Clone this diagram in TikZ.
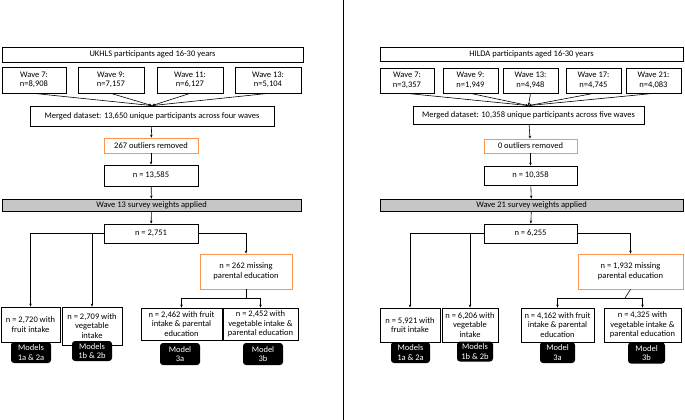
\documentclass[tikz,border=0pt]{standalone}
\usepackage{fontspec}
\setmainfont{Carlito}
\usetikzlibrary{arrows.meta}
\tikzset{
  box/.style={draw, thick, fill=white, align=center, inner sep=1pt, font=\fontsize{8.5}{9.5}\selectfont},
  outl/.style={box, draw=orange!80!red!70},
  bar/.style={box, fill=gray!45},
  model/.style={fill=black, text=white, rounded corners=3pt, align=center, inner sep=1pt, font=\fontsize{8.5}{9.5}\selectfont},
  arr/.style={-{Stealth[length=3pt,width=2.5pt]}, semithick},
}
\begin{document}
\begin{tikzpicture}[x=1pt, y=-1pt]
    \useasboundingbox (0,0) rectangle (685,420);

    % Divider between the two cohorts
    \draw[semithick] (343,0) -- (343,420);

    % UKHLS cohort
    \node[box, minimum width=301pt, minimum height=15pt] (uTitle) at (152.5,54.5) {UKHLS participants aged 16-30 years};
    \node[box, minimum width=64pt, minimum height=26pt] (uW1) at (34,80) {Wave 7:\\n=8,908};
    \node[box, minimum width=66pt, minimum height=26pt] (uW2) at (111,80) {Wave 9:\\n=7,157};
    \node[box, minimum width=66pt, minimum height=26pt] (uW3) at (190,80) {Wave 11:\\n=6,127};
    \node[box, minimum width=66pt, minimum height=26pt] (uW4) at (268,80) {Wave 13:\\n=5,104};
    \node[box, minimum width=244pt, minimum height=20pt] (uMerge) at (152,116) {Merged dataset: 13,650 unique participants across four waves};
    \node[outl, minimum width=94pt, minimum height=15pt] (uOut) at (151,145.5) {267 outliers removed};
    \node[box, minimum width=94pt, minimum height=21pt] (uN) at (151,175.5) {n = 13,585};
    \node[bar, minimum width=299pt, minimum height=12pt] (uWeight) at (151.5,205) {Wave 13 survey weights applied};
    \node[box, minimum width=94pt, minimum height=19pt] (uAll) at (151,233.5) {n = 2,751};
    \node[outl, minimum width=92pt, minimum height=35pt] (uMiss) at (246,271.5) {n = 262 missing\\parental education};
    \node[box, minimum width=59pt, minimum height=35pt] (uFruit) at (30.5,324.5) {n = 2,720 with\\fruit intake};
    \node[box, minimum width=60pt, minimum height=38pt] (uVeg) at (92,326) {n = 2,709 with\\vegetable\\intake};
    \node[box, minimum width=81pt, minimum height=32pt] (uFruitPE) at (181.5,324) {n = 2,462 with fruit\\intake \& parental\\education};
    \node[box, minimum width=75pt, minimum height=32pt] (uVegPE) at (260.5,324) {n = 2,452 with\\vegetable intake \&\\parental education};
    \node[model, minimum width=40pt, minimum height=21pt] (uM1) at (31,352.5) {Models\\1a \& 2a};
    \node[model, minimum width=40pt, minimum height=20pt] (uM2) at (92,351) {Models\\1b \& 2b};
    \node[model, minimum width=40pt, minimum height=22pt] (uM3) at (180,354) {Model\\3a};
    \node[model, minimum width=40pt, minimum height=22pt] (uM4) at (263,354) {Model\\3b};
    \coordinate (uJoin) at (246,298);

    \draw[arr] (uW1.south) -- (uMerge.north);
    \draw[arr] (uW2.south) -- (uMerge.north);
    \draw[arr] (uW3.south) -- (uMerge.north);
    \draw[arr] (uW4.south) -- (uMerge.north);
    \draw[arr] (uMerge) -- (uOut);
    \draw[arr] (uOut) -- (uN);
    \draw[arr] (uN) -- (uWeight);
    \draw[arr] (uWeight) -- (uAll);
    \draw[arr] (uAll.west) -| (uFruit.north);
    \draw[arr] (uAll.west) -| (uVeg.north);
    \draw[arr] (uAll.east) -| (uMiss.north);
    \draw[semithick] (uMiss.south) -- (uJoin);
    \draw[arr] (uJoin) -| (uFruitPE.north);
    \draw[arr] (uJoin) -| (uVegPE.north);

    % HILDA cohort
    \node[box, minimum width=303pt, minimum height=14pt] (hTitle) at (531.5,54) {HILDA participants aged 16-30 years};
    \node[box, minimum width=54pt, minimum height=25pt] (hW1) at (407,80.5) {Wave 7:\\n=3,357};
    \node[box, minimum width=55pt, minimum height=25pt] (hW2) at (470.5,80.5) {Wave 9:\\n=1,949};
    \node[box, minimum width=55pt, minimum height=25pt] (hW3) at (530.5,80.5) {Wave 13:\\n=4,948};
    \node[box, minimum width=55pt, minimum height=25pt] (hW4) at (593.5,80.5) {Wave 17:\\n=4,745};
    \node[box, minimum width=55pt, minimum height=25pt] (hW5) at (653.5,80.5) {Wave 21:\\n=4,083};
    \node[box, minimum width=231pt, minimum height=18pt] (hMerge) at (528.5,115) {Merged dataset: 10,358 unique participants across five waves};
    \node[outl, minimum width=93pt, minimum height=14pt] (hOut) at (530.5,146) {0 outliers removed};
    \node[box, minimum width=93pt, minimum height=19pt] (hN) at (530.5,175.5) {n = 10,358};
    \node[bar, minimum width=303pt, minimum height=12pt] (hWeight) at (531.5,205) {Wave 21 survey weights applied};
    \node[box, minimum width=93pt, minimum height=19pt] (hAll) at (530.5,233.5) {n = 6,255};
    \node[outl, minimum width=105pt, minimum height=35pt] (hMiss) at (630.5,271.5) {n = 1,932 missing\\parental education};
    \node[box, minimum width=60pt, minimum height=34pt] (hFruit) at (410,325) {n = 5,921 with\\fruit intake};
    \node[box, minimum width=56pt, minimum height=34pt] (hVeg) at (470,325) {n = 6,206 with\\vegetable\\intake};
    \node[box, minimum width=73pt, minimum height=34pt] (hFruitPE) at (557.5,325) {n = 4,162 with fruit\\intake \& parental\\education};
    \node[box, minimum width=77pt, minimum height=34pt] (hVegPE) at (642.5,325) {n = 4,325 with\\vegetable intake \&\\parental education};
    \node[model, minimum width=39pt, minimum height=21pt] (hM1) at (410.5,352.5) {Models\\1a \& 2a};
    \node[model, minimum width=36pt, minimum height=20pt] (hM2) at (475,351.5) {Models\\1b \& 2b};
    \node[model, minimum width=35pt, minimum height=21pt] (hM3) at (557.5,352.5) {Model\\3a};
    \node[model, minimum width=37pt, minimum height=21pt] (hM4) at (646.5,353) {Model\\3b};
    \coordinate (hJoin) at (625,298);

    \draw[arr] (hW1.south) -- (hMerge.north);
    \draw[arr] (hW2.south) -- (hMerge.north);
    \draw[arr] (hW3.south) -- (hMerge.north);
    \draw[arr] (hW4.south) -- (hMerge.north);
    \draw[arr] (hW5.south) -- (hMerge.north);
    \draw[arr] (hMerge) -- (hOut);
    \draw[arr] (hOut) -- (hN);
    \draw[arr] (hN) -- (hWeight);
    \draw[arr] (hWeight) -- (hAll);
    \draw[arr] (hAll.west) -| (hFruit.north);
    \draw[arr] (hAll.west) -| (hVeg.north);
    \draw[arr] (hAll.east) -| (hMiss.north);
    \draw[semithick] (hMiss.south) -- (hJoin);
    \draw[arr] (hJoin) -| (hFruitPE.north);
    \draw[arr] (hJoin) -| (hVegPE.north);
\end{tikzpicture}
\end{document}
